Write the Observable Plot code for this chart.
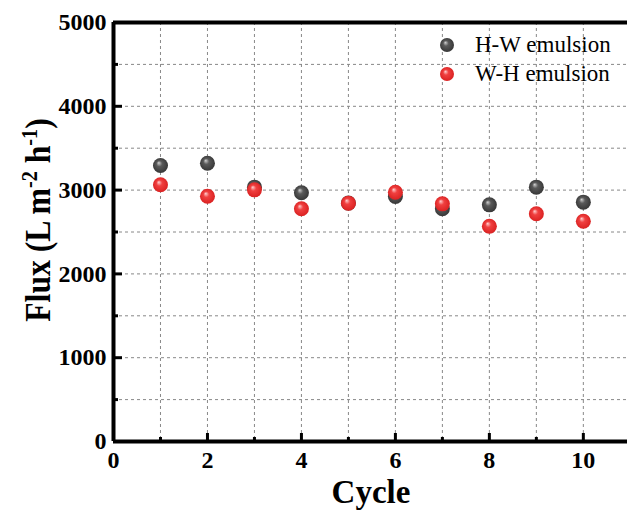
<!DOCTYPE html>
<html><head><meta charset="utf-8">
<script src="https://cdn.jsdelivr.net/npm/d3@7"></script>
<script src="https://cdn.jsdelivr.net/npm/@observablehq/plot@0.6"></script>
<style>
body{margin:0;background:#fff;}
</style>
</head><body>
<div id="chart"></div>
<script>
const cycles = [1,2,3,4,5,6,7,8,9,10];
const hwFlux = [3294,3321,3035,2968,2845,2924,2777,2824,3035,2856];
const whFlux = [3063,2927,3003,2777,2844,2975,2836,2569,2717,2629];
const seriesNames = ["H-W emulsion","W-H emulsion"];
const seriesColors = [{base:"#333333",mid:"#5a5a5a",hi:"#d0d0d0",id:"gGray"},{base:"#d81e1e",mid:"#f04040",hi:"#ffd0d0",id:"gRed"}];
const xTicks = [0,2,4,6,8,10];
const xMinor = [1,3,5,7,9];
const yTicks = [0,1000,2000,3000,4000,5000];
const yMinor = [500,1500,2500,3500,4500];
const gridX = [1,2,3,4,5,6,7,8,9,10];
const gridY = [500,1000,1500,2000,2500,3000,3500,4000,4500];

const hw = cycles.map((c,i)=>({cycle:c, flux:hwFlux[i]}));
const wh = cycles.map((c,i)=>({cycle:c, flux:whFlux[i]}));

const W=627, H=511, ML=113, MR=0, MT=22, MB=70;
const frameH = H-MT-MB;
const serif = "Liberation Serif";

const chart = Plot.plot({
  width: W, height: H,
  marginLeft: ML, marginRight: MR, marginTop: MT, marginBottom: MB,
  style: {background:"#fff", overflow:"visible", fontFamily: serif},
  x: {domain:[0,10.94], axis:null},
  y: {domain:[0,5000], axis:null},
  marks: [
    Plot.gridX(gridX, {stroke:"#888", strokeOpacity:1, strokeWidth:1, strokeDasharray:"3,3"}),
    Plot.gridY(gridY, {stroke:"#888", strokeOpacity:1, strokeWidth:1, strokeDasharray:"3,3"}),
    Plot.tickX(xTicks, {x:d=>d, stroke:"#000", strokeWidth:3, insetTop:frameH-8}),
    Plot.tickX(xMinor, {x:d=>d, stroke:"#000", strokeWidth:3, insetTop:frameH-4}),
    Plot.tickY(yTicks, {y:d=>d, stroke:"#000", strokeWidth:3, insetRight:(W-ML-MR)-9}),
    Plot.tickY(yMinor, {y:d=>d, stroke:"#000", strokeWidth:3, insetRight:(W-ML-MR)-5}),
    Plot.ruleY([0], {stroke:"#000", strokeWidth:4}),
    Plot.ruleY([5000], {stroke:"#000", strokeWidth:4}),
    Plot.ruleX([0], {stroke:"#000", strokeWidth:4}),
    Plot.text(xTicks, {x:d=>d, frameAnchor:"bottom", dy:19, text:d=>String(d), fontSize:24, fontWeight:"bold", fontFamily:serif, fill:"#000", lineAnchor:"middle"}),
    Plot.text(yTicks, {y:d=>d, frameAnchor:"left", dx:-7, text:d=>String(d), fontSize:24, fontWeight:"bold", fontFamily:serif, fill:"#000", textAnchor:"end"}),
    Plot.dot(hw, {x:"cycle", y:"flux", r:7.5, fill:"url(#gGray)", stroke:"none"}),
    Plot.dot(wh, {x:"cycle", y:"flux", r:7.5, fill:"url(#gRed)", stroke:"none"})
  ]
});

const ns = "http://www.w3.org/2000/svg";
const defs = document.createElementNS(ns,"defs");
seriesColors.forEach(c=>{
  const g = document.createElementNS(ns,"radialGradient");
  g.setAttribute("id", c.id);
  g.setAttribute("cx","0.5"); g.setAttribute("cy","0.5"); g.setAttribute("r","0.55");
  g.setAttribute("fx","0.38"); g.setAttribute("fy","0.32");
  [[0,c.hi],[0.35,c.mid],[1,c.base]].forEach(([o,col])=>{
    const s=document.createElementNS(ns,"stop");
    s.setAttribute("offset",o); s.setAttribute("stop-color",col);
    g.appendChild(s);
  });
  defs.appendChild(g);
});
chart.insertBefore(defs, chart.firstChild);

function mkText(attrs, content){
  const t=document.createElementNS(ns,"text");
  for(const k in attrs) t.setAttribute(k, attrs[k]);
  if(content!=null) t.textContent=content;
  return t;
}

// y label with superscripts
const yl = mkText({transform:"translate(50,220) rotate(-90) scale(0.88,1)", "text-anchor":"middle", "font-size":"36", "font-weight":"bold", "font-family":serif, fill:"#000"});
const parts = [["Flux (L m",false],["-2",true],[" h",false],["-1",true],[")",false]];
parts.forEach(([t,sup])=>{
  const ts=document.createElementNS(ns,"tspan");
  ts.textContent=t;
  if(sup){ts.setAttribute("baseline-shift","super"); ts.setAttribute("font-size","23");}
  yl.appendChild(ts);
});
chart.appendChild(yl);

// x label
chart.appendChild(mkText({x:"371", y:"503", "text-anchor":"middle", "font-size":"33", "font-weight":"bold", "font-family":serif, fill:"#000"}, "Cycle"));

// legend
seriesNames.forEach((name,i)=>{
  const cy = 45 + i*29;
  const c = document.createElementNS(ns,"circle");
  c.setAttribute("cx","447"); c.setAttribute("cy",cy); c.setAttribute("r","7");
  c.setAttribute("fill","url(#"+seriesColors[i].id+")");
  chart.appendChild(c);
  chart.appendChild(mkText({x:"475", y:cy+7, "text-anchor":"start", "font-size":"23", "font-family":serif, fill:"#000"}, name));
});

chart.querySelectorAll("text").forEach(t=>t.setAttribute("font-family", serif));

document.getElementById("chart").appendChild(chart);
</script>
</body></html>
